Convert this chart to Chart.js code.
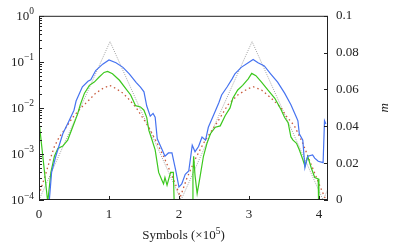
<!DOCTYPE html>
<html>
<head>
<meta charset="utf-8">
<script src="https://cdn.jsdelivr.net/npm/chart.js"></script>
<style>
  html, body { margin: 0; padding: 0; background: #fff; }
  canvas { display: block; }
</style>
</head>
<body>
<canvas id="chart" width="394" height="246"></canvas>
<script>
// values
var xTicks = [0, 1, 2, 3, 4];
var rightTicks = [0, 0.02, 0.04, 0.06, 0.08, 0.1];
var leftDecades = [-4, -3, -2, -1, 0];

var blueX = [0.13, 0.15, 0.18, 0.24, 0.34, 0.43, 0.50, 0.53, 0.62, 0.70,
             0.74, 0.81, 0.91, 1.00, 1.10, 1.20, 1.29, 1.39, 1.45, 1.50,
             1.54, 1.59, 1.63, 1.66, 1.69, 1.76, 1.80, 1.85, 1.90, 1.95,
             2.00, 2.04, 2.09, 2.14, 2.19, 2.23, 2.28, 2.33, 2.38, 2.42,
             2.50, 2.57, 2.61, 2.69, 2.76, 2.80, 2.89, 2.99, 3.06, 3.13,
             3.22, 3.31, 3.41, 3.51, 3.60, 3.68, 3.70, 3.72, 3.77, 3.80,
             3.84, 3.91, 3.94, 3.99, 4.06, 4.08, 4.10];
var blueY = [0.00005, 0.00011, 0.000398, 0.000891, 0.00275, 0.00525, 0.00891, 0.0141, 0.0288, 0.038,
             0.0407, 0.0646, 0.0891, 0.110, 0.0955, 0.0759, 0.055, 0.0355, 0.0282, 0.0224,
             0.011, 0.00661, 0.00759, 0.00631, 0.00214, 0.00123, 0.000891, 0.00105, 0.00105, 0.000468,
             0.000191, 0.000224, 0.000363, 0.000427, 0.00155, 0.00112, 0.00145, 0.00234, 0.002, 0.0038,
             0.00724, 0.0129, 0.0191, 0.0288, 0.0427, 0.055, 0.0759, 0.0955, 0.112, 0.0955,
             0.0813, 0.055, 0.0363, 0.0209, 0.0117, 0.00617, 0.00525, 0.00275, 0.002, 0.000501,
             0.000891, 0.000955, 0.000813, 0.000692, 0.000646, 0.00525, 0.00447];

var greenX = [0.00, 0.125, 0.17, 0.22, 0.27, 0.34, 0.41, 0.48, 0.55, 0.59,
              0.65, 0.72, 0.79, 0.86, 0.93, 0.98, 1.05, 1.15, 1.24, 1.31,
              1.38, 1.45, 1.50, 1.54, 1.57, 1.61, 1.66, 1.71, 1.76, 1.78,
              1.80, 1.83, 1.88, 1.92, 1.94, 2.19, 2.20, 2.21, 2.23, 2.26,
              2.30, 2.35, 2.40, 2.45, 2.52, 2.59, 2.66, 2.73, 2.77, 2.84,
              2.91, 2.99, 3.04, 3.10, 3.18, 3.27, 3.37, 3.46, 3.51, 3.56,
              3.60, 3.63, 3.68, 3.72, 3.77, 3.80, 3.84, 3.89, 3.94, 3.99,
              4.00, 4.13];
var greenY = [0.00525, 0.00009, 0.000398, 0.000891, 0.00132, 0.00148, 0.002, 0.0038, 0.00724, 0.0117,
              0.0209, 0.0309, 0.0363, 0.0468, 0.0589, 0.0617, 0.055, 0.0398, 0.0263, 0.0191,
              0.0112, 0.0105, 0.00891, 0.00617, 0.00324, 0.00214, 0.00123, 0.000398, 0.000263, 0.000224,
              0.000309, 0.000209, 0.000398, 0.000398, 0.00003, 0.00003, 0.000363, 0.000891, 0.000339, 0.000138,
              0.000309, 0.000891, 0.0017, 0.00275, 0.0038, 0.00407, 0.00676, 0.01, 0.0162, 0.0245,
              0.0309, 0.0427, 0.0562, 0.0501, 0.0363, 0.0245, 0.0162, 0.00912, 0.00617, 0.00479,
              0.00234, 0.002, 0.0017, 0.00123, 0.000759, 0.00055, 0.000891, 0.000501, 0.000309, 0.000288,
              0.00003, 0.00003];

var redX = [0.00, 0.08, 0.15, 0.22, 0.29, 0.39, 0.48, 0.60, 0.72, 0.81,
            0.91, 1.01, 1.10, 1.20, 1.29, 1.39, 1.45, 1.57, 1.69, 1.80,
            1.92, 2.02, 2.11, 2.23, 2.35, 2.47, 2.59, 2.70, 2.84, 2.99,
            3.06, 3.18, 3.32, 3.46, 3.53, 3.65, 3.77, 3.89, 4.01, 4.08,
            4.13];
var redY = [0.000129, 0.000309, 0.000692, 0.00145, 0.00234, 0.0038, 0.00617, 0.01, 0.0151, 0.0209,
            0.0263, 0.0309, 0.0263, 0.0209, 0.0151, 0.01, 0.00724, 0.0038, 0.0017, 0.000759,
            0.000288, 0.000117, 0.000288, 0.000759, 0.0017, 0.00324, 0.00617, 0.0117, 0.0191, 0.0263,
            0.0288, 0.0245, 0.0162, 0.01, 0.00676, 0.00407, 0.0017, 0.000589, 0.000209, 0.000117,
            0.00008];

// m, on the right axis
var mX = [0, 1.015, 2.03, 3.045, 4.06, 4.13];
var mY = [0, 0.086, 0, 0.086, 0, 0.006];

function pts(xs, ys) {
    return xs.map(function (x, i) { return { x: x, y: ys[i] }; });
}

var serif = '"Liberation Serif", "DejaVu Serif", serif';

// frame, inward ticks and the labels with superscripts
var framePlugin = {
    id: 'frame',
    afterDraw: function (chart) {
        var ctx = chart.ctx;
        var a = chart.chartArea;
        var xs = chart.scales.x, ys = chart.scales.y, y2 = chart.scales.y2;
        ctx.save();
        ctx.strokeStyle = '#222';
        ctx.lineWidth = 1;
        ctx.strokeRect(a.left + 0.5, a.top + 0.5, a.right - a.left - 1, a.bottom - a.top - 1);

        ctx.beginPath();
        leftDecades.forEach(function (k) {
            var py = Math.round(ys.getPixelForValue(Math.pow(10, k))) + 0.5;
            ctx.moveTo(a.left, py); ctx.lineTo(a.left + 5, py);
            if (k < 0) {
                for (var n = 2; n <= 9; n++) {
                    var q = Math.round(ys.getPixelForValue(n * Math.pow(10, k))) + 0.5;
                    ctx.moveTo(a.left, q); ctx.lineTo(a.left + 3, q);
                }
            }
        });
        rightTicks.forEach(function (v) {
            var py = Math.round(y2.getPixelForValue(v)) + 0.5;
            ctx.moveTo(a.right - 4, py); ctx.lineTo(a.right, py);
        });
        xTicks.forEach(function (v) {
            var px = Math.round(xs.getPixelForValue(v)) + 0.5;
            ctx.moveTo(px, a.bottom); ctx.lineTo(px, a.bottom - 4);
        });
        ctx.stroke();

        // left labels 10^k
        ctx.fillStyle = '#222';
        ctx.textBaseline = 'middle';
        leftDecades.forEach(function (k) {
            var py = ys.getPixelForValue(Math.pow(10, k));
            var exp = k === 0 ? '0' : '\u2212' + (-k);
            ctx.font = '9.5px ' + serif;
            var we = ctx.measureText(exp).width;
            ctx.font = '13px ' + serif;
            var wb = ctx.measureText('10').width;
            var right = a.left - 5;
            ctx.textAlign = 'left';
            ctx.fillText('10', right - we - wb, py + 1);
            ctx.font = '9.5px ' + serif;
            ctx.fillText(exp, right - we, py - 4);
        });

        // x title
        ctx.font = '13px ' + serif;
        var t1 = 'Symbols (\u00d710', t2 = ')';
        var w1 = ctx.measureText(t1).width, w2 = ctx.measureText(t2).width;
        ctx.font = '9.5px ' + serif;
        var w5 = ctx.measureText('5').width;
        var cx = (a.left + a.right) / 2;
        var sx = cx - (w1 + w5 + w2) / 2;
        var ty = 236;
        ctx.font = '13px ' + serif;
        ctx.fillText(t1, sx, ty);
        ctx.fillText(t2, sx + w1 + w5, ty);
        ctx.font = '9.5px ' + serif;
        ctx.fillText('5', sx + w1, ty - 5);

        // right title
        ctx.translate(385, (a.top + a.bottom) / 2);
        ctx.rotate(-Math.PI / 2);
        ctx.textAlign = 'center';
        ctx.font = 'italic 13px ' + serif;
        ctx.fillText('m', 0, 0);
        ctx.restore();
    }
};

var ctx = document.getElementById('chart').getContext('2d');

new Chart(ctx, {
    type: 'line',
    data: {
        datasets: [{
            label: 'blue',
            data: pts(blueX, blueY),
            yAxisID: 'y',
            borderColor: 'rgb(70, 115, 240)',
            borderWidth: 1.2
        }, {
            label: 'green',
            data: pts(greenX, greenY),
            yAxisID: 'y',
            borderColor: 'rgb(60, 200, 30)',
            borderWidth: 1.2
        }, {
            label: 'red',
            data: pts(redX, redY),
            yAxisID: 'y',
            borderColor: 'rgb(200, 90, 60)',
            borderWidth: 1.3,
            borderDash: [1.5, 3]
        }, {
            label: 'm',
            data: pts(mX, mY),
            yAxisID: 'y2',
            borderColor: 'rgb(150, 150, 150)',
            borderWidth: 0.9,
            borderDash: [1, 1.3]
        }]
    },
    options: {
        responsive: false,
        animation: false,
        layout: { padding: { top: 10, left: 0, right: 0, bottom: 0 } },
        elements: { point: { radius: 0 }, line: { tension: 0 } },
        plugins: { legend: { display: false }, tooltip: { enabled: false } },
        scales: {
            x: {
                type: 'linear',
                min: 0,
                max: 4.13,
                grid: { display: false, drawTicks: false },
                border: { display: false },
                afterBuildTicks: function (scale) {
                    scale.ticks = xTicks.map(function (v) { return { value: v }; });
                },
                afterFit: function (scale) { scale.height = 46; },
                ticks: {
                    padding: 7,
                    maxRotation: 0,
                    color: '#222',
                    font: { family: serif, size: 13 }
                }
            },
            y: {
                type: 'logarithmic',
                position: 'left',
                min: 1e-4,
                max: 1,
                grid: { display: false, drawTicks: false },
                border: { display: false },
                ticks: { display: false },
                afterFit: function (scale) { scale.width = 39; }
            },
            y2: {
                type: 'linear',
                position: 'right',
                min: 0,
                max: 0.1,
                grid: { display: false, drawTicks: false },
                border: { display: false },
                afterBuildTicks: function (scale) {
                    scale.ticks = rightTicks.map(function (v) { return { value: v }; });
                },
                afterFit: function (scale) { scale.width = 66; },
                ticks: {
                    padding: 8,
                    color: '#222',
                    font: { family: serif, size: 13 },
                    callback: function (v) { return String(+v.toFixed(2)); }
                }
            }
        }
    },
    plugins: [framePlugin]
});
</script>
</body>
</html>
